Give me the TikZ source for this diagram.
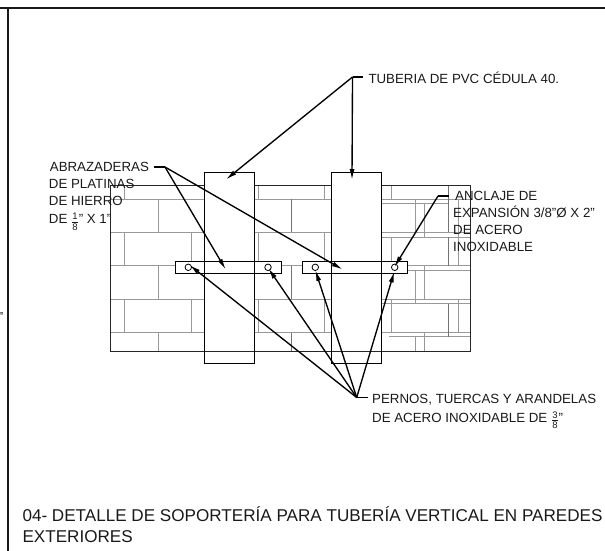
\documentclass[tikz,border=0pt]{standalone}
\usepackage{fontspec}
\setmainfont{Liberation Sans}
\usetikzlibrary{arrows.meta}
\definecolor{brick}{gray}{0.6}
\definecolor{wallc}{gray}{0.15}
\newcommand{\stfr}[2]{\smash{\raisebox{-1.5pt}{$\frac{\hbox{\fontsize{9.5}{9.5}\selectfont #1}}{\hbox{\fontsize{9.5}{9.5}\selectfont #2}}$}}}
\tikzset{
  frameline/.style={line width=2pt,color=black!90},
  brickline/.style={line width=1pt,color=brick},
  brickdark/.style={line width=0.9pt,color=black!55},
  wallline/.style={line width=1pt,color=wallc},
  pipeline/.style={line width=1pt,color=black},
  plate/.style={draw=black,line width=1pt,fill=white},
  boltc/.style={circle,draw=black,line width=0.8pt,fill=white,minimum size=6.5pt,inner sep=0pt},
  lead/.style={line width=1.35pt,color=black,-{Latex[length=11pt,width=5pt]}},
  stub/.style={line width=1.6pt,color=black},
  lbl/.style={font=\fontsize{13.3}{16.8}\selectfont,align=left,anchor=north west,inner sep=0pt,text=black!90},
  ttl/.style={font=\fontsize{17.1}{21}\selectfont,align=left,anchor=north west,inner sep=0pt,text=black!90}
}
\begin{document}
\begin{tikzpicture}[x=1pt,y=-1pt]
\useasboundingbox (0,0) rectangle (605,551);
% frame
\draw[frameline] (0,8.5) -- (605,8.5);
\draw[frameline] (7.7,8.5) -- (7.7,551);
% brick courses: horizontal
\foreach \yy in {199,232.3,265.7,299,332.7}{
  \draw[brickline] (110,\yy) -- (204.5,\yy);
  \draw[brickline] (254.5,\yy) -- (331.5,\yy);
  \draw[brickline] (381.5,\yy) -- (470,\yy);
}
\draw[brickline] (381.5,203.7) -- (448.3,203.7);
\draw[brickline] (381.5,237.3) -- (470,237.3);
\draw[brickline] (381.5,270) -- (470,270);
\draw[brickline] (381.5,303.7) -- (470,303.7);
\draw[brickline] (389,336.7) -- (470,336.7);
% brick joints
\foreach \xx/\ya/\yb in {124.7/185/199,258.3/185/199,324.7/185/199,391.3/185/199,
  158/199/232.3,
  124.7/232.3/265.7,191.7/232.3/265.7,258.3/232.3/265.7,324.7/232.3/265.7,391.3/237.3/265.7,
  158/265.7/299,
  124.7/299/332.7,191.7/299/332.7,258.3/299/332.7,324.7/299/332.7,391.3/299/332.7,
  158/332.7/351,415/336.7/351,424.7/332.7/351,
  415/199/232.3,424.7/203.7/237.3,458/199/265.7,415/270/303.7,424.7/265.7/299,458/299/332.7}{
  \draw[brickline] (\xx,\ya) -- (\xx,\yb);
}
\foreach \xx/\ya/\yb in {291.7/199/232.3,291.7/265.7/299,291.7/332.7/351,448.3/185/232.3,448.3/237.3/265.7,448.3/303.7/336.7}{
  \draw[brickdark] (\xx,\ya) -- (\xx,\yb);
}
% wall outline
\draw[wallline] (204.5,185) -- (110,185) -- (110,351) -- (470,351) -- (470,185) -- (381.5,185);
\draw[wallline] (254.5,185) -- (331.5,185);
% plates
\node[plate,minimum width=105.8pt,minimum height=12pt,inner sep=0pt] (plateA) at (228.5,267.3) {};
\node[plate,minimum width=105pt,minimum height=12pt,inner sep=0pt] (plateB) at (354.8,267.3) {};
% pipes
\node[pipeline,draw,minimum width=50pt,minimum height=191pt,inner sep=0pt] (pipeA) at (229.5,267.5) {};
\node[pipeline,draw,minimum width=50pt,minimum height=191pt,inner sep=0pt] (pipeB) at (356.5,267.5) {};
% bolts
\node[boltc] (b1) at (188.3,267.3) {};
\node[boltc] (b2) at (268,267.3) {};
\node[boltc] (b3) at (315.3,267.3) {};
\node[boltc] (b4) at (394.7,267.3) {};
% leader coordinates
\coordinate (tubElbow) at (352.5,77);
\coordinate (tubEnd) at (363,77);
\coordinate (tubA) at (226,179.5);
\coordinate (tubB) at (352,180);
\coordinate (abrStart) at (153.5,167);
\coordinate (abrElbow) at (165,167);
\coordinate (abrA) at (225.7,269.5);
\coordinate (abrB) at (342.7,269.5);
\coordinate (ancStart) at (449,196);
\coordinate (ancElbow) at (438,196);
\coordinate (ancTip) at (394.3,267);
\coordinate (perElbow) at (356.7,397.5);
\coordinate (perEnd) at (367.5,397.5);
\coordinate (perA) at (189.5,265);
\coordinate (perB) at (268.3,268.3);
\coordinate (perC) at (315.3,270);
\coordinate (perD) at (394.3,271.5);
% leaders
\draw[stub] (tubElbow) -- (tubEnd);
\draw[lead] (tubElbow) -- (tubA);
\draw[lead] (tubElbow) -- (tubB);
\draw[stub] (abrStart) -- (abrElbow);
\draw[lead] (abrElbow) -- (abrA);
\draw[lead] (abrElbow) -- (abrB);
\draw[stub] (ancStart) -- (ancElbow);
\draw[lead] (ancElbow) -- (ancTip);
\draw[stub] (perElbow) -- (perEnd);
\draw[lead] (perElbow) -- (perA);
\draw[lead] (perElbow) -- (perB);
\draw[lead] (perElbow) -- (perC);
\draw[lead] (perElbow) -- (perD);
% labels
\node[lbl] (tubLabel) at (368.3,71.5) {TUBERIA DE PVC CÉDULA 40.};
\node[lbl] (abrLabel) at (48.7,162) {\hspace*{1pt}ABRAZADERAS\\DE PLATINAS\\DE HIERRO\\[2pt]DE \stfr{1}{8}" X 1"};
\node[lbl] (ancLabel) at (453,191.4) {\hspace*{2pt}ANCLAJE DE\\EXPANSIÓN 3/8"Ø X 2"\\DE ACERO\\INOXIDABLE};
\node[lbl] (perLabel) at (372,393.7) {PERNOS, TUERCAS Y ARANDELAS\\[2.2pt]DE ACERO INOXIDABLE DE \stfr{3}{8}"};
\node[ttl] (title) at (22.3,506) {04- DETALLE DE SOPORTERÍA PARA TUBERÍA VERTICAL EN PAREDES\\EXTERIORES};
\node[font=\fontsize{13}{13}\selectfont,inner sep=0pt,anchor=base] (edgeMark) at (1,321) {"};
\end{tikzpicture}
\end{document}
